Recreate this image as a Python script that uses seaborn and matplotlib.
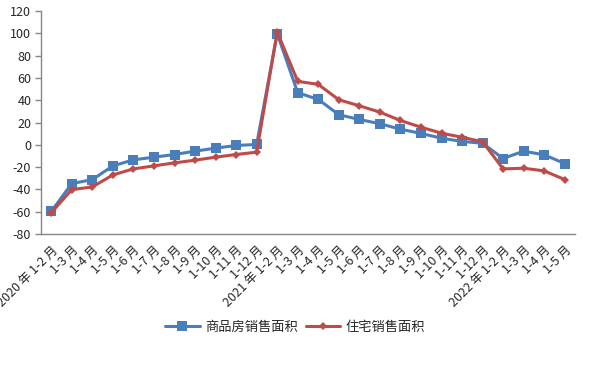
import numpy as np
import pandas as pd
import matplotlib
matplotlib.use("Agg")
import matplotlib.pyplot as plt
import seaborn as sns
from matplotlib.lines import Line2D

categories = ["2020 年 1-2 月", "1-3 月", "1-4 月", "1-5 月", "1-6 月", "1-7 月", "1-8 月",
              "1-9 月", "1-10 月", "1-11 月", "1-12 月",
              "2021 年 1-2 月", "1-3 月", "1-4 月", "1-5 月", "1-6 月", "1-7 月", "1-8 月",
              "1-9 月", "1-10 月", "1-11 月", "1-12 月",
              "2022 年 1-2 月", "1-3 月", "1-4 月", "1-5 月"]
commercial = [-59.7, -34.8, -31.2, -18.9, -13.5, -11.1, -8.7, -5.7, -3.0, -0.6, 0.3,
              99.7, 46.7, 40.7, 27.0, 22.7, 18.9, 14.0, 10.2, 5.9, 3.0, 1.4,
              -12.3, -5.7, -9.0, -16.8]
residential = [-60.8, -40.2, -37.8, -27.0, -21.6, -18.9, -16.2, -13.8, -11.1, -8.7, -6.6,
               101.2, 56.9, 54.2, 40.4, 35.0, 29.3, 21.8, 15.8, 10.4, 6.8, 2.7,
               -21.6, -21.0, -23.4, -31.2]
series_names = ["商品房销售面积", "住宅销售面积"]
yticks = list(range(-80, 121, 20))

sns.set_style("white")
plt.rcParams['font.family'] = ['Noto Sans CJK SC', 'DejaVu Sans']

pos = np.arange(len(categories))
df = pd.DataFrame({
    "pos": np.concatenate([pos, pos]),
    "value": commercial + residential,
    "series": [series_names[0]] * len(pos) + [series_names[1]] * len(pos),
})

fig = plt.figure(figsize=(5.89, 3.72), dpi=100)
ax = fig.add_axes([41 / 589, 1 - 234 / 372, (575 - 41) / 589, (234 - 11) / 372])

palette = {series_names[0]: "#4A7EBB", series_names[1]: "#BE4B48"}
sns.lineplot(data=df, x="pos", y="value", hue="series", style="series",
             markers={series_names[0]: "s", series_names[1]: "D"},
             dashes=False, palette=palette, linewidth=2.2, ax=ax,
             markersize=6.5, markeredgewidth=0, legend=False)
for line in ax.lines:
    if line.get_marker() == "D":
        line.set_markersize(4.5)

ax.set_xlim(-0.5, len(categories) - 0.5)
ax.set_ylim(-80, 120)
ax.set_yticks(yticks)
ax.set_yticklabels([str(v) for v in yticks], fontsize=9)
ax.set_xticks(pos)
ax.set_xticklabels(categories, rotation=45, ha="right", rotation_mode="anchor", fontsize=9)
ax.set_xticks(np.arange(-0.5, len(categories), 1.0), minor=True)
ax.tick_params(axis="x", which="major", length=0, pad=7)
ax.tick_params(axis="x", which="minor", length=5, color="#868686", width=1)
ax.tick_params(axis="y", which="major", length=4, color="#868686", width=1, left=True, pad=3)
ax.set_xlabel("")
ax.set_ylabel("")
for s in ["top", "right"]:
    ax.spines[s].set_visible(False)
for s in ["left", "bottom"]:
    ax.spines[s].set_color("#868686")
    ax.spines[s].set_linewidth(1)

handles = [Line2D([], [], color=palette[series_names[0]], marker="s", markersize=6.5, lw=2.2, markeredgewidth=0),
           Line2D([], [], color=palette[series_names[1]], marker="D", markersize=4.5, lw=2.2, markeredgewidth=0)]
fig.legend(handles, series_names, loc="center", bbox_to_anchor=(295 / 589, 1 - 327 / 372),
           ncol=2, frameon=False, fontsize=9.5, handlelength=2.6, columnspacing=0.6, handletextpad=0.4)

fig.savefig("out.png", dpi=100)
